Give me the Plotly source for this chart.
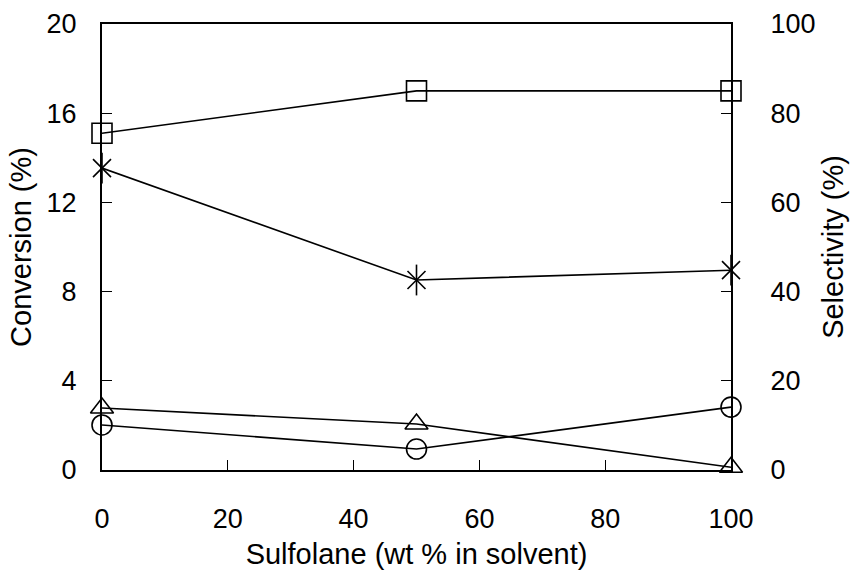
import plotly.graph_objects as go

sulfolane = [0, 50, 100]
conv_square = [15.1, 17.0, 17.0]          # left axis (Conversion %)
sel_star = [67.7, 42.6, 44.8]             # right axis (Selectivity %)
sel_triangle = [13.9, 10.3, 0.6]
sel_circle = [10.1, 4.7, 14.1]

x_ticks = [0, 20, 40, 60, 80, 100]
y1_ticks = [0, 4, 8, 12, 16, 20]
y2_ticks = [0, 20, 40, 60, 80, 100]

FONT = "Liberation Sans, Arial, sans-serif"
MS = 20
LW = 1.6

fig = go.Figure()

def add(x, y, symbol, axis, size=MS):
    fig.add_trace(go.Scatter(
        x=x, y=y, mode="lines+markers", yaxis=axis, cliponaxis=False,
        line=dict(color="black", width=LW),
        marker=dict(symbol=symbol, size=size, color="black",
                    line=dict(color="black", width=LW)),
        showlegend=False))

add(sulfolane, conv_square, "square-open", "y")
add(sulfolane, sel_star, "x-thin-open", "y2", 18)
fig.add_trace(go.Scatter(
    x=sulfolane, y=sel_star, mode="markers", yaxis="y2", cliponaxis=False,
    marker=dict(symbol="line-ns-open", size=22, color="black",
                line=dict(color="black", width=LW)),
    showlegend=False))
add(sulfolane, sel_triangle, "triangle-up-open", "y2")
add(sulfolane, sel_circle, "circle-open", "y2")

axis_font = dict(family=FONT, size=27, color="black")
title_font = dict(family=FONT, size=29, color="black")

fig.update_layout(
    width=851, height=570,
    margin=dict(l=102, r=120, t=24, b=100),
    paper_bgcolor="white", plot_bgcolor="white",
    xaxis=dict(range=[0, 100], tickvals=x_ticks, ticks="inside", ticklen=10,
               tickwidth=1, tickcolor="black", showline=True, linecolor="black",
               linewidth=2, mirror=True, showgrid=False, zeroline=False,
               tickfont=axis_font, ticklabelstandoff=24, automargin=False,
               title=dict(text="Sulfolane (wt % in solvent)", font=title_font, standoff=28)),
    yaxis=dict(range=[0, 20], tickvals=y1_ticks, ticks="inside", ticklen=10,
               tickwidth=1, tickcolor="black", showline=True, linecolor="black",
               linewidth=2, showgrid=False, zeroline=False, automargin=False,
               tickfont=axis_font, ticklabelstandoff=18,
               title=dict(text="Conversion (%)", font=title_font, standoff=6)),
    yaxis2=dict(range=[0, 100], tickvals=y2_ticks, ticks="inside", ticklen=10,
                tickwidth=1, tickcolor="black", showline=True, linecolor="black",
                linewidth=2, overlaying="y", side="right", showgrid=False,
                zeroline=False, tickfont=axis_font, ticklabelstandoff=32,
                automargin=False,
                title=dict(text="Selectivity (%)", font=title_font, standoff=8)),
)

fig.write_html("out.html")
